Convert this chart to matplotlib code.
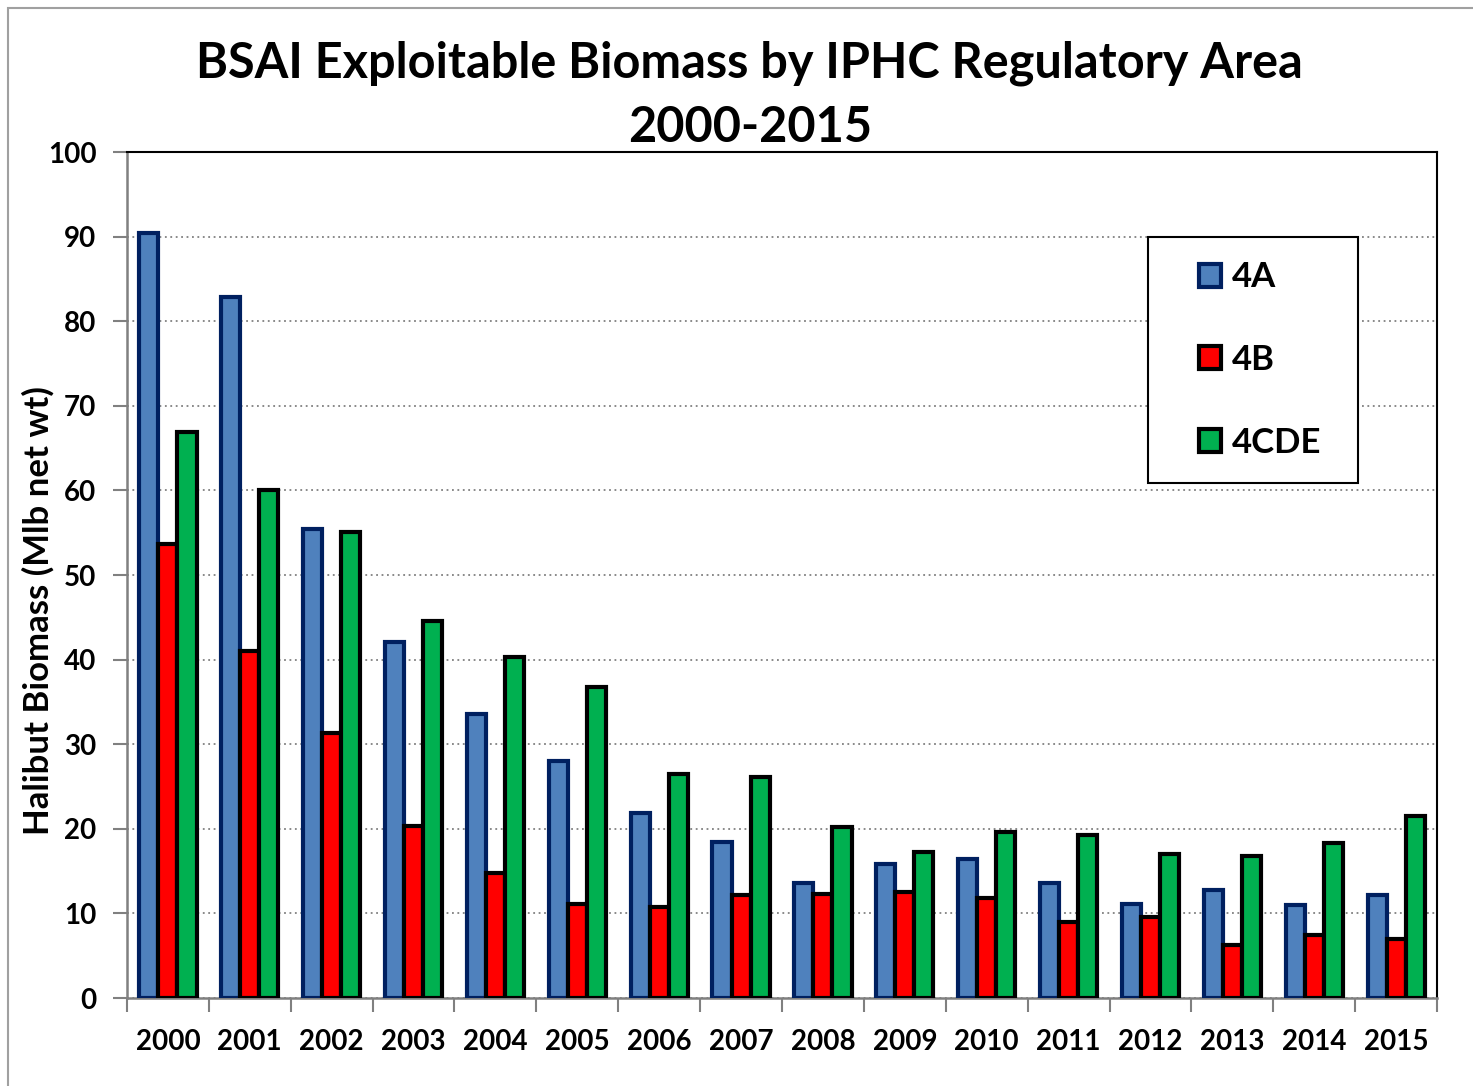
import numpy as np
import matplotlib.pyplot as plt
from matplotlib.patches import Rectangle

# données
annees = [str(a) for a in range(2000, 2016)]
zone_4A = [90.4, 82.9, 55.4, 42.1, 33.6, 28.0, 21.9, 18.4, 13.6, 15.8, 16.4, 13.6, 11.1, 12.8, 11.0, 12.2]
zone_4B = [53.7, 41.0, 31.3, 20.3, 14.8, 11.1, 10.8, 12.2, 12.3, 12.5, 11.8, 9.0, 9.6, 6.3, 7.4, 7.0]
zone_4CDE = [66.9, 60.0, 55.1, 44.6, 40.3, 36.8, 26.5, 26.1, 20.2, 17.3, 19.6, 19.3, 17.0, 16.8, 18.3, 21.5]

plt.rcParams['font.family'] = ['Lato', 'DejaVu Sans']
plt.rcParams['font.weight'] = 'bold'

fig = plt.figure(figsize=(14.73, 10.86), dpi=100)
ax = fig.add_axes([0.0862, 0.0810, 0.8894, 0.7790])

# cadre gris autour de la figure
fig.patches.append(Rectangle((0.0055, -0.01), 1.2, 1.0026, transform=fig.transFigure,
                             fill=False, edgecolor='#a0a0a0', linewidth=1.5))

x = np.arange(len(annees))
w = 0.233
ax.bar(x - w, zone_4A, w, color='#4f81bd', edgecolor='#002060', linewidth=3, label='4A', zorder=3)
ax.bar(x, zone_4B, w, color='#ff0000', edgecolor='black', linewidth=3, label='4B', zorder=3)
ax.bar(x + w, zone_4CDE, w, color='#00b050', edgecolor='black', linewidth=3, label='4CDE', zorder=3)

ax.set_xlim(-0.5, len(annees) - 0.5)
ax.set_ylim(0, 100)
ax.set_yticks(range(0, 101, 10))
ax.yaxis.grid(True, linestyle=(0, (1, 2)), color='#808080', linewidth=1.3, zorder=0)

ax.set_xticks(x)
ax.set_xticklabels(annees, fontsize=20, fontweight='bold')
ax.set_xticks(np.arange(-0.5, len(annees), 1), minor=True)
ax.tick_params(axis='x', which='major', length=0, pad=22)
ax.tick_params(axis='x', which='minor', length=10, width=1.5, color='#808080', direction='out')
ax.tick_params(axis='y', length=10, width=1.5, color='#808080', labelsize=20, pad=12)
for t in ax.get_yticklabels():
    t.set_fontweight('bold')

ax.spines['left'].set_color('#808080')
ax.spines['bottom'].set_color('#808080')
ax.spines['left'].set_linewidth(1.8)
ax.spines['bottom'].set_linewidth(1.8)
ax.spines['top'].set_linewidth(1.5)
ax.spines['right'].set_linewidth(1.5)

fig.text(0.0258, 0.4374, 'Halibut Biomass (Mlb net wt)', rotation=90, ha='center', va='center',
         fontsize=25, fontweight='bold')

fig.text(0.509, 0.9125, 'BSAI Exploitable Biomass by IPHC Regulatory Area\n2000-2015',
         ha='center', va='center', fontsize=35, fontweight='bold', linespacing=1.5)

# cadre de la légende
ax.add_patch(Rectangle((0.7794, 0.6087), 0.1603, 0.2908, transform=ax.transAxes,
                       fill=True, facecolor='white', edgecolor='black', linewidth=1.5, zorder=4))
leg = ax.legend(loc='center', bbox_to_anchor=(0.8648, 0.7541), fontsize=25, frameon=False,
                labelspacing=1.46, borderpad=0, handlelength=0.65, handleheight=0.65,
                handletextpad=0.3, borderaxespad=0)
leg.set_zorder(5)
for t in leg.get_texts():
    t.set_fontweight('bold')

fig.savefig('out.png', dpi=100)
